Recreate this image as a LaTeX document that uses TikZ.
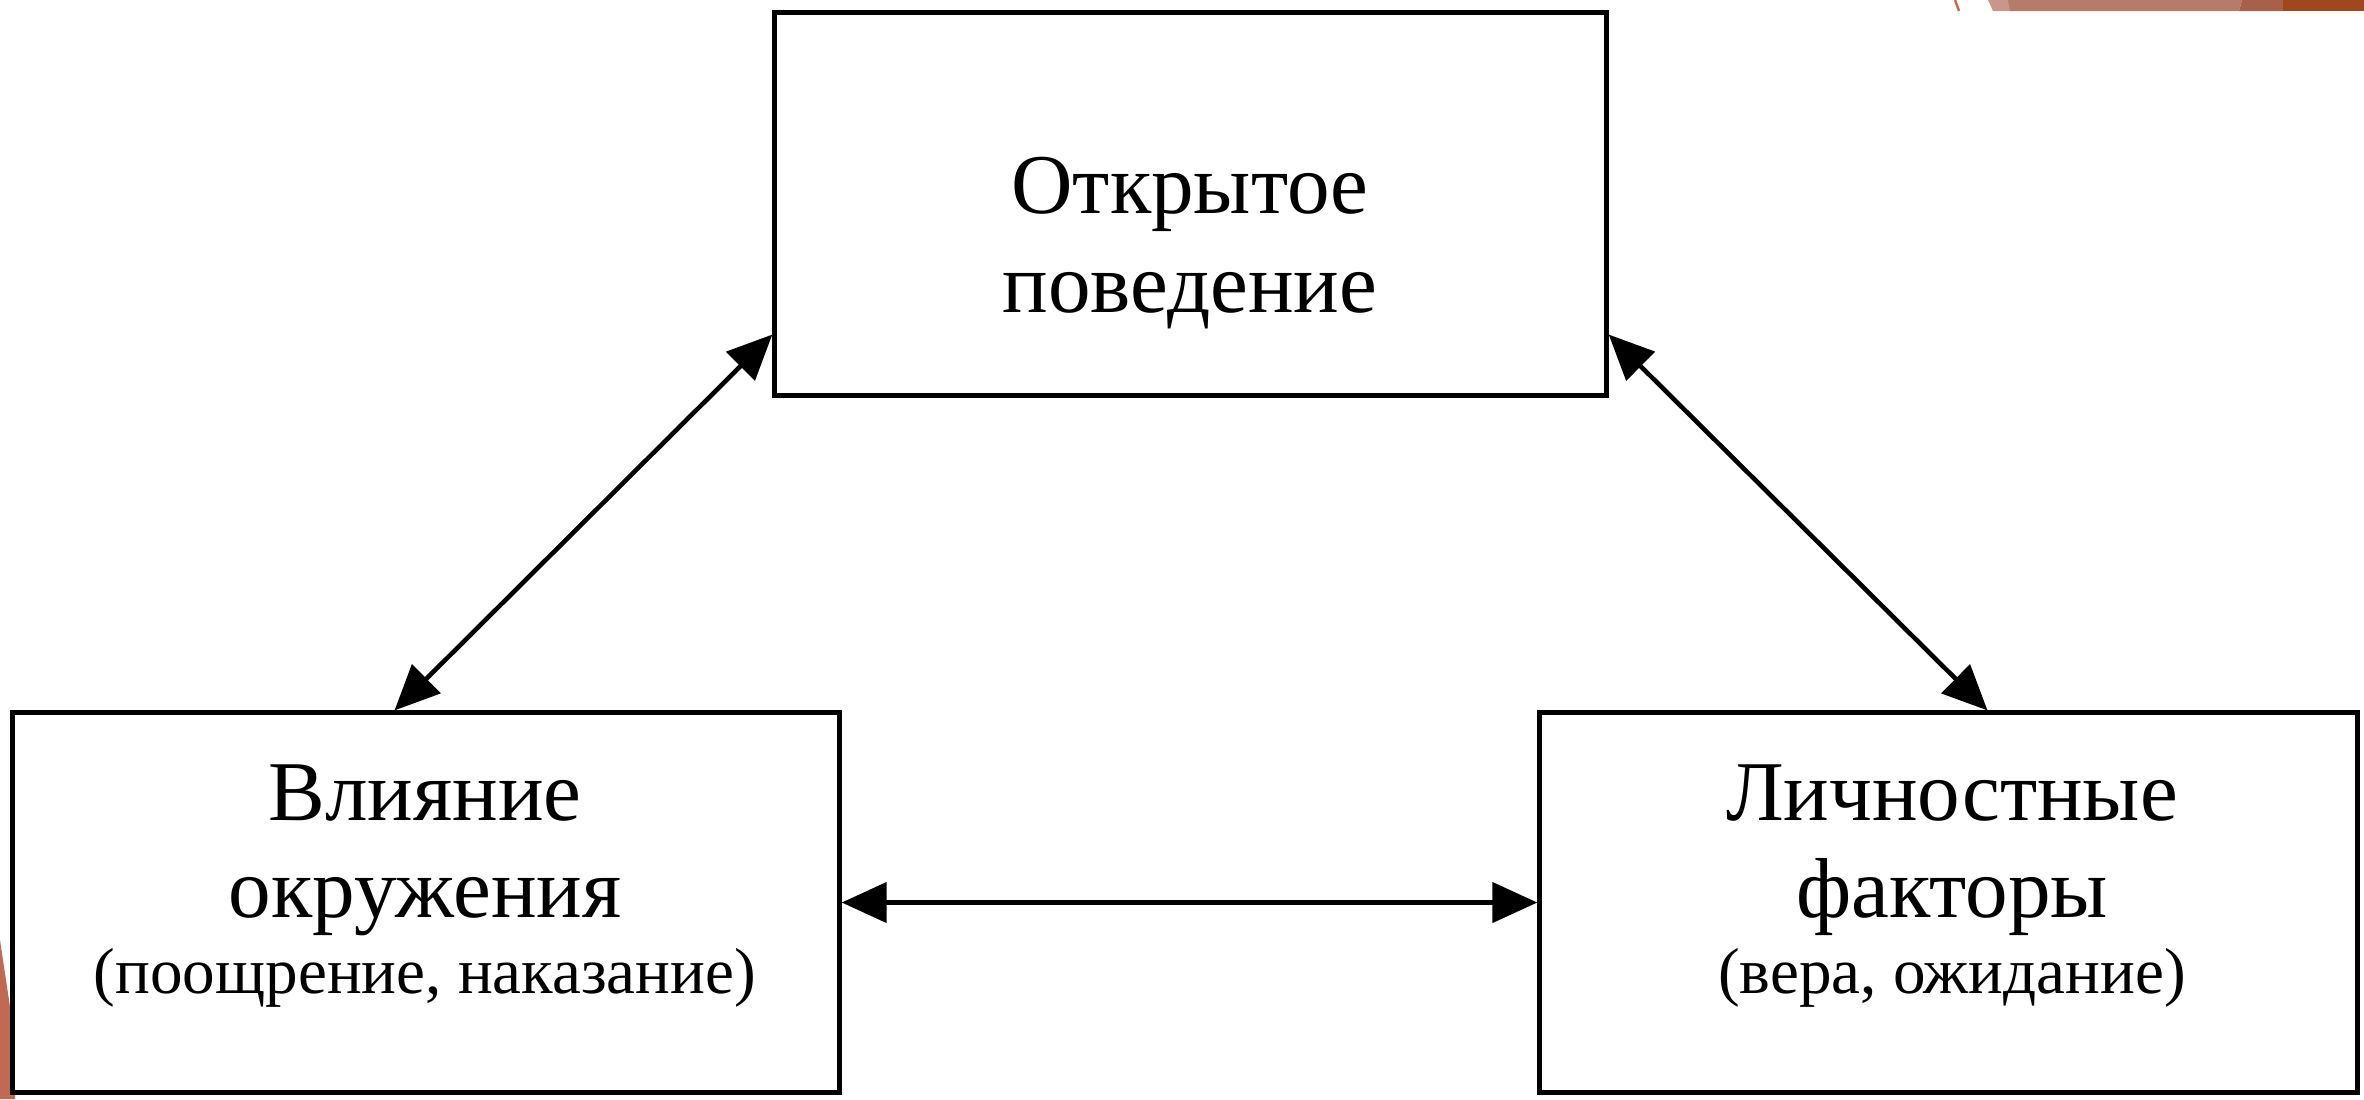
\documentclass[tikz,border=0pt]{standalone}
\usepackage{fontspec}
\setmainfont{Liberation Serif}
\usetikzlibrary{arrows.meta}
\definecolor{decopale}{RGB}{200,150,138}
\definecolor{decosalmon}{RGB}{181,124,108}
\definecolor{decomid}{RGB}{168,96,76}
\definecolor{decodark}{RGB}{160,72,28}
\definecolor{decoline}{RGB}{196,104,78}
\definecolor{decowedge}{RGB}{192,106,84}
\begin{document}
\begin{tikzpicture}[x=0.01cm,y=-0.01cm,
  box/.style={draw=black, line width=1.4pt, fill=white, inner sep=0pt},
  bigtxt/.style={font=\fontsize{24.2pt}{27.6pt}\selectfont, inner sep=0pt, anchor=base},
  smalltxt/.style={font=\fontsize{18.5pt}{21pt}\selectfont, inner sep=0pt, anchor=base},
  link/.style={{Triangle[length=0.45cm,width=0.40cm]}-{Triangle[length=0.45cm,width=0.40cm]}, line width=1.3pt}]
\useasboundingbox (0,0) rectangle (2364,1099);
% corner decorations
\draw[decoline, line width=0.7pt] (1955,0) -- (1959,11);
\fill[decopale] (1988,0) -- (2010,0) -- (2012,11) -- (1993,11) -- cycle;
\fill[decosalmon] (2008,0) -- (2242,0) -- (2239,11) -- (2010,11) -- cycle;
\fill[decomid] (2242,0) -- (2283,0) -- (2283,11) -- (2239,11) -- cycle;
\fill[decodark] (2283,0) rectangle (2364,11);
\fill[decowedge] (0,940) -- (15,1040) -- (15,1099) -- (0,1099) -- cycle;
% boxes
\node[box, minimum width=8.31cm, minimum height=3.82cm] (top) at (1190.5,204) {};
\node[box, minimum width=8.26cm, minimum height=3.79cm] (left) at (426,902.5) {};
\node[box, minimum width=8.17cm, minimum height=3.79cm] (right) at (1948.5,902.5) {};
% texts
\node[bigtxt] (t1) at (1190,213) {Открытое};
\node[bigtxt] (t2) at (1190,312) {поведение};
\node[bigtxt] (l1) at (425,820) {Влияние};
\node[bigtxt] (l2) at (425,917) {окружения};
\node[smalltxt] (l3) at (425,993) {(поощрение, наказание)};
\node[bigtxt] (r1) at (1952,820) {Личностные};
\node[bigtxt] (r2) at (1952,917) {факторы};
\node[smalltxt] (r3) at (1952,993) {(вера, ожидание)};
% connectors
\draw[link] ([yshift=0.63cm]top.south west) -- ([xshift=3.84cm]left.north west);
\draw[link] ([yshift=0.63cm]top.south east) -- ([xshift=-3.72cm]right.north east);
\draw[link] (left.east) -- (right.west);
\end{tikzpicture}
\end{document}
